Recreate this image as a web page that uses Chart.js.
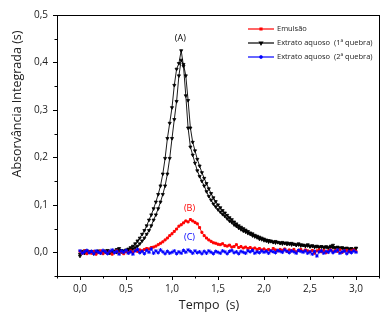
<!DOCTYPE html>
<html lang="pt">

<head>
    <meta charset="UTF-8">
    <title>Absorvância Integrada</title>
    <style>
        body {
            margin: 0;
            background: #ffffff;
        }

        #chart-container {
            width: 390px;
            height: 316px;
        }
    </style>
    <script src="https://cdn.jsdelivr.net/npm/chart.js"></script>
</head>

<body>

    <div id="chart-container">
        <canvas id="absChart" width="390" height="316"></canvas>
    </div>

    <script>
        // time axis (s)
        const tempo = [
            0.000, 0.025, 0.050, 0.075, 0.100, 0.125, 0.150, 0.175, 0.200, 0.225,
            0.250, 0.275, 0.300, 0.325, 0.350, 0.375, 0.400, 0.425, 0.450, 0.475,
            0.500, 0.525, 0.550, 0.575, 0.600, 0.625, 0.650, 0.675, 0.700, 0.725,
            0.750, 0.775, 0.800, 0.825, 0.850, 0.875, 0.900, 0.925, 0.950, 0.975,
            1.000, 1.025, 1.050, 1.075, 1.100, 1.125, 1.150, 1.175, 1.200, 1.225,
            1.250, 1.275, 1.300, 1.325, 1.350, 1.375, 1.400, 1.425, 1.450, 1.475,
            1.500, 1.525, 1.550, 1.575, 1.600, 1.625, 1.650, 1.675, 1.700, 1.725,
            1.750, 1.775, 1.800, 1.825, 1.850, 1.875, 1.900, 1.925, 1.950, 1.975,
            2.000, 2.025, 2.050, 2.075, 2.100, 2.125, 2.150, 2.175, 2.200, 2.225,
            2.250, 2.275, 2.300, 2.325, 2.350, 2.375, 2.400, 2.425, 2.450, 2.475,
            2.500, 2.525, 2.550, 2.575, 2.600, 2.625, 2.650, 2.675, 2.700, 2.725,
            2.750, 2.775, 2.800, 2.825, 2.850, 2.875, 2.900, 2.925, 2.950, 2.975,
            3.000
        ];

        // Emulsão (B)
        const emulsao = [
            0.002, -0.002, 0.003, -0.003, 0.001, -0.002, 0.002, -0.004, 0.000, 0.003,
            -0.003, 0.001, -0.002, 0.002, -0.004, 0.000, 0.003, -0.002, 0.001, -0.003,
            0.002, -0.001, 0.003, 0.000, 0.004, 0.002, 0.005, 0.003, 0.006, 0.008,
            0.007, 0.010, 0.011, 0.013, 0.016, 0.019, 0.022, 0.026, 0.030, 0.035,
            0.039, 0.044, 0.049, 0.055, 0.058, 0.062, 0.066, 0.064, 0.069, 0.066,
            0.063, 0.060, 0.052, 0.042, 0.035, 0.030, 0.026, 0.023, 0.020, 0.019,
            0.017, 0.016, 0.018, 0.014, 0.013, 0.015, 0.011, 0.012, 0.016, 0.010,
            0.012, 0.009, 0.011, 0.008, 0.010, 0.007, 0.009, 0.006, 0.008, 0.005,
            0.007, 0.004, 0.006, 0.003, 0.008, 0.005, 0.003, 0.006, 0.004, 0.007,
            0.002, 0.005, 0.003, 0.006, 0.001, 0.004, 0.006, 0.002, 0.005, 0.003,
            0.001, 0.004, -0.002, 0.003, 0.005, 0.001, 0.004, -0.001, 0.003, 0.005,
            0.001, 0.004, 0.002, 0.005, 0.000, 0.003, 0.004, 0.001, 0.003, 0.005,
            0.002
        ];

        // Extrato aquoso 1a quebra (A) - two passes drawn in black
        const extrato1a = [
            -0.008, 0.002, -0.002, 0.003, 0.000, 0.002, -0.003, 0.001, 0.003, -0.001,
            0.002, 0.000, 0.004, -0.002, 0.001, 0.003, 0.000, 0.008, 0.004, 0.002,
            0.005, 0.007, 0.010, 0.013, 0.018, 0.024, 0.030, 0.038, 0.046, 0.056,
            0.068, 0.079, 0.092, 0.106, 0.122, 0.140, 0.165, 0.198, 0.240, 0.272,
            0.305, 0.352, 0.386, 0.398, 0.425, 0.392, 0.330, 0.262, 0.222, 0.205,
            0.188, 0.172, 0.160, 0.150, 0.140, 0.128, 0.118, 0.110, 0.102, 0.096,
            0.090, 0.085, 0.080, 0.076, 0.071, 0.066, 0.063, 0.058, 0.055, 0.051,
            0.048, 0.045, 0.043, 0.040, 0.038, 0.035, 0.033, 0.031, 0.028, 0.027,
            0.025, 0.024, 0.022, 0.023, 0.021, 0.020, 0.021, 0.019, 0.018, 0.019,
            0.017, 0.018, 0.016, 0.017, 0.015, 0.016, 0.014, 0.015, 0.013, 0.014,
            0.012, 0.013, 0.011, 0.012, 0.010, 0.012, 0.010, 0.011, 0.009, 0.013,
            0.010, 0.009, 0.010, 0.008, 0.009, 0.007, 0.008, 0.006, 0.007, 0.005,
            0.008
        ];
        const extrato1b = [
            -0.004, 0.000, 0.003, -0.001, 0.002, 0.000, 0.001, -0.002, 0.002, 0.001,
            -0.001, 0.003, 0.000, 0.002, -0.001, 0.001, 0.006, 0.003, 0.001, 0.003,
            0.002, 0.004, 0.005, 0.007, 0.010, 0.013, 0.018, 0.024, 0.030, 0.038,
            0.046, 0.056, 0.068, 0.079, 0.092, 0.106, 0.122, 0.140, 0.165, 0.198,
            0.240, 0.280, 0.318, 0.372, 0.405, 0.396, 0.372, 0.320, 0.262, 0.232,
            0.214, 0.196, 0.182, 0.168, 0.156, 0.145, 0.134, 0.124, 0.115, 0.107,
            0.100, 0.094, 0.088, 0.083, 0.078, 0.073, 0.069, 0.064, 0.060, 0.056,
            0.053, 0.050, 0.047, 0.044, 0.041, 0.039, 0.036, 0.034, 0.032, 0.030,
            0.028, 0.026, 0.025, 0.024, 0.022, 0.023, 0.021, 0.020, 0.021, 0.019,
            0.020, 0.018, 0.019, 0.017, 0.016, 0.018, 0.016, 0.015, 0.014, 0.016,
            0.013, 0.014, 0.012, 0.013, 0.011, 0.012, 0.010, 0.012, 0.010, 0.011,
            0.015, 0.010, 0.011, 0.009, 0.010, 0.008, 0.009, 0.007, 0.008, 0.006,
            0.009
        ];

        // Extrato aquoso 2a quebra (C)
        const extrato2 = [
            0.003, -0.002, 0.001, 0.004, -0.001, 0.002, -0.003, 0.003, 0.000, -0.002,
            0.004, 0.001, -0.003, 0.002, 0.005, -0.001, 0.002, -0.004, 0.003, 0.000,
            0.004, -0.002, 0.001, -0.004, 0.003, 0.006, -0.001, 0.002, -0.003, 0.004,
            0.000, 0.007, -0.002, 0.003, -0.001, 0.005, 0.001, -0.003, 0.002, -0.002,
            0.000, 0.003, -0.003, 0.001, -0.002, 0.004, 0.000, 0.005, 0.002, -0.002,
            0.003, -0.001, 0.001, -0.003, 0.002, -0.002, 0.003, 0.000, -0.003, 0.002,
            0.000, -0.002, 0.003, 0.001, -0.003, 0.002, 0.004, -0.001, 0.001, -0.003,
            0.002, 0.000, -0.002, 0.003, 0.001, 0.004, -0.002, 0.001, -0.001, 0.003,
            0.000, 0.002, -0.002, 0.003, 0.001, -0.001, 0.004, 0.002, 0.000, 0.005,
            0.002, -0.001, 0.003, 0.001, -0.002, 0.004, 0.002, 0.000, 0.003, -0.002,
            0.001, -0.004, 0.002, -0.008, 0.001, 0.003, -0.002, 0.002, 0.000, 0.004,
            -0.001, 0.002, 0.005, -0.002, 0.001, 0.003, -0.003, 0.002, -0.001, 0.003,
            0.000
        ];

        const seriesLabels = ['Emulsão', 'Extrato aquoso  (1ª quebra)', 'Extrato aquoso  (2ª quebra)'];
        const seriesColors = ['#ff0000', '#000000', '#0000ff'];

        const xTicks = [0, 0.5, 1.0, 1.5, 2.0, 2.5, 3.0];
        const xMinor = [-0.25, 0.25, 0.75, 1.25, 1.75, 2.25, 2.75, 3.25];
        const yTicks = [0, 0.1, 0.2, 0.3, 0.4, 0.5];
        const yMinor = [-0.05, 0.05, 0.15, 0.25, 0.35, 0.45];

        // peak labels
        const peakText = ['(A)', '(B)', '(C)'];
        const peakX = [1.09, 1.19, 1.19];
        const peakY = [0.451, 0.092, 0.031];
        const peakColors = ['#000000', '#ff0000', '#0000ff'];

        const FONT = '"Open Sans", Arial, sans-serif';

        function toPoints(values) {
            return tempo.map((t, i) => ({ x: t, y: values[i] }));
        }

        function commaLabel(v) {
            return v.toFixed(1).replace('.', ',');
        }

        const pointStyles = [
            { pointStyle: 'rect', radius: 1.4, rotation: 0, borderWidth: 1 },
            { pointStyle: 'triangle', radius: 1.8, rotation: 180, borderWidth: 0.8 },
            { pointStyle: 'star', radius: 1.8, rotation: 0, borderWidth: 1 }
        ];

        // frame, tick marks, axis titles, legend and peak labels
        const decorations = {
            id: 'decorations',
            afterDraw(chart) {
                const ctx = chart.ctx;
                const area = chart.chartArea;
                const xs = chart.scales.x;
                const ys = chart.scales.y;
                ctx.save();

                ctx.strokeStyle = '#000';
                ctx.lineWidth = 1;
                ctx.strokeRect(area.left + 0.5, area.top + 0.5, area.right - area.left, area.bottom - area.top);

                ctx.beginPath();
                xTicks.forEach(v => {
                    const px = Math.round(xs.getPixelForValue(v)) + 0.5;
                    ctx.moveTo(px, area.bottom);
                    ctx.lineTo(px, area.bottom + 4);
                });
                xMinor.forEach(v => {
                    const px = Math.round(xs.getPixelForValue(v)) + 0.5;
                    ctx.moveTo(px, area.bottom);
                    ctx.lineTo(px, area.bottom + 2.5);
                });
                yTicks.forEach(v => {
                    const py = Math.round(ys.getPixelForValue(v)) + 0.5;
                    ctx.moveTo(area.left, py);
                    ctx.lineTo(area.left - 4, py);
                });
                yMinor.forEach(v => {
                    const py = Math.round(ys.getPixelForValue(v)) + 0.5;
                    ctx.moveTo(area.left, py);
                    ctx.lineTo(area.left - 2.5, py);
                });
                ctx.stroke();

                // axis titles
                ctx.fillStyle = '#222';
                ctx.font = '12.5px ' + FONT;
                ctx.textAlign = 'center';
                ctx.textBaseline = 'middle';
                ctx.fillText('Tempo  (s)', 209, 305);
                ctx.save();
                ctx.translate(17, 104);
                ctx.rotate(-Math.PI / 2);
                ctx.fillText('Absorvância Integrada (s)', 0, 0);
                ctx.restore();

                // legend
                ctx.font = '7.5px ' + FONT;
                ctx.textAlign = 'left';
                seriesLabels.forEach((label, i) => {
                    const ly = 29 + i * 14;
                    ctx.strokeStyle = seriesColors[i];
                    ctx.lineWidth = 1.2;
                    ctx.beginPath();
                    ctx.moveTo(248, ly);
                    ctx.lineTo(274, ly);
                    ctx.stroke();
                    ctx.fillStyle = seriesColors[i];
                    Chart.helpers.drawPoint(ctx, pointStyles[i], 261, ly);
                    ctx.fillStyle = '#222';
                    ctx.fillText(label, 277, ly);
                });

                // peak labels
                ctx.font = '9px ' + FONT;
                ctx.textAlign = 'center';
                peakText.forEach((txt, i) => {
                    ctx.fillStyle = peakColors[i];
                    ctx.fillText(txt, xs.getPixelForValue(peakX[i]), ys.getPixelForValue(peakY[i]));
                });

                ctx.restore();
            }
        };

        function lineSet(label, values, colorIdx, order) {
            const st = pointStyles[colorIdx];
            return {
                label: label,
                data: toPoints(values),
                borderColor: seriesColors[colorIdx],
                backgroundColor: seriesColors[colorIdx],
                borderWidth: 0.9,
                pointStyle: st.pointStyle,
                pointRadius: st.radius,
                pointRotation: st.rotation,
                pointBorderWidth: st.borderWidth,
                tension: 0,
                order: order
            };
        }

        function createChart() {
            const ctx = document.getElementById('absChart').getContext('2d');
            new Chart(ctx, {
                type: 'line',
                data: {
                    datasets: [
                        lineSet(seriesLabels[2], extrato2, 2, 0),
                        lineSet(seriesLabels[0], emulsao, 0, 1),
                        lineSet(seriesLabels[1], extrato1a, 1, 2),
                        lineSet(seriesLabels[1], extrato1b, 1, 3)
                    ]
                },
                options: {
                    responsive: false,
                    animation: false,
                    devicePixelRatio: 1,
                    layout: {
                        padding: { left: 0, right: 11, top: 14, bottom: 0 }
                    },
                    plugins: {
                        legend: { display: false },
                        tooltip: { enabled: false }
                    },
                    scales: {
                        x: {
                            type: 'linear',
                            min: -0.25,
                            max: 3.25,
                            grid: { display: false, drawTicks: false },
                            border: { display: false },
                            afterBuildTicks: (scale) => {
                                scale.ticks = xTicks.map(v => ({ value: v }));
                            },
                            afterFit: (scale) => {
                                scale.height = 40;
                            },
                            ticks: {
                                padding: 7,
                                maxRotation: 0,
                                color: '#222',
                                font: { family: FONT, size: 10 },
                                callback: (v) => commaLabel(v)
                            }
                        },
                        y: {
                            type: 'linear',
                            min: -0.05,
                            max: 0.5,
                            grid: { display: false, drawTicks: false },
                            border: { display: false },
                            afterBuildTicks: (scale) => {
                                scale.ticks = yTicks.map(v => ({ value: v }));
                            },
                            afterFit: (scale) => {
                                scale.width = 57;
                            },
                            ticks: {
                                padding: 9,
                                color: '#222',
                                font: { family: FONT, size: 10 },
                                callback: (v) => commaLabel(v)
                            }
                        }
                    }
                },
                plugins: [decorations]
            });
        }

        window.onload = function () {
            createChart();
        };
    </script>

</body>

</html>
